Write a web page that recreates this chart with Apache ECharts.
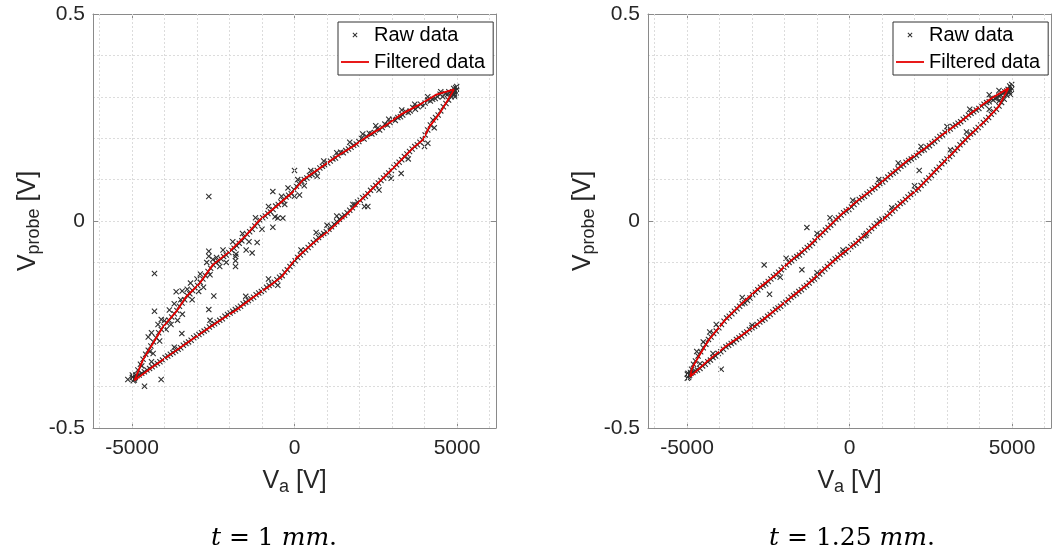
<!DOCTYPE html>
<html>
<head>
<meta charset="utf-8">
<script src="https://cdn.jsdelivr.net/npm/echarts@6/dist/echarts.min.js"></script>
<style>html,body{margin:0;padding:0;background:#fff}#c{width:1055px;height:559px}</style>
</head>
<body>
<div id="c"></div>
<script>
// ---------- tick / grid values ----------
var xTicks = [-5000, 0, 5000];
var xGrid = [-6000, -5000, -4000, -3000, -2000, -1000, 0, 1000, 2000, 3000, 4000, 5000, 6000];
var captions = ['t = 1 mm.', 't = 1.25 mm.'];

// ---------- left panel (t = 1 mm) ----------
var leftUpperLine = [[4910,0.318],[4359,0.305],[3846,0.281],[3333,0.260],[2821,0.232],[2308,0.208],[1795,0.180],[1282,0.155],[769,0.127],[256,0.099],[-51,0.070],[-564,0.035],[-1077,0.002],[-1487,-0.034],[-2000,-0.074],[-2513,-0.106],[-2923,-0.151],[-3333,-0.183],[-3641,-0.219],[-4051,-0.256],[-4359,-0.296],[-4667,-0.336],[-4923,-0.385]];
var leftLowerLine = [[-4923,-0.383],[-4360,-0.352],[-3846,-0.324],[-3333,-0.296],[-2821,-0.268],[-2308,-0.241],[-1795,-0.215],[-1282,-0.185],[-769,-0.157],[-400,-0.135],[50,-0.090],[564,-0.054],[1077,-0.022],[1590,0.015],[2103,0.055],[2615,0.095],[3128,0.135],[3641,0.176],[3949,0.196],[4154,0.228],[4462,0.260],[4700,0.290],[4910,0.318]];
var leftRawUpper = [[4990,0.325],[4980,0.318],[4960,0.322],[4950,0.310],[4940,0.315],[4920,0.305],[4900,0.320],[4870,0.312],[4820,0.310],[4750,0.312],[4700,0.305],[4640,0.308],[4560,0.300],[4480,0.306],[4400,0.300],[4330,0.296],[4250,0.294],[4180,0.290],[4100,0.292],[4020,0.285],[3960,0.278],[3880,0.282],[3800,0.276],[3720,0.270],[3640,0.274],[3560,0.266],[3500,0.262],[3420,0.264],[3330,0.256],[3260,0.252],[3180,0.250],[3100,0.243],[3020,0.246],[2940,0.238],[2860,0.232],[2780,0.234],[2700,0.226],[2620,0.220],[2540,0.223],[2460,0.214],[2380,0.210],[2300,0.212],[2220,0.204],[2140,0.198],[2060,0.200],[1980,0.192],[1900,0.186],[1820,0.183],[1740,0.178],[1660,0.174],[1580,0.170],[1500,0.165],[1420,0.166],[1340,0.158],[1260,0.152],[1180,0.150],[1100,0.145],[1020,0.140],[940,0.135],[860,0.132],[780,0.128],[700,0.122],[620,0.118],[540,0.112],[460,0.110],[380,0.104],[300,0.100],[220,0.096],[140,0.090],[60,0.084],[-20,0.076],[-100,0.066],[-180,0.062],[-260,0.058],[-340,0.050],[-420,0.046],[-500,0.040],[-580,0.036],[-660,0.028],[-740,0.022],[-820,0.018],[-900,0.012],[-980,0.008],[-1060,0.002],[-1140,-0.006],[-1220,-0.012],[-1300,-0.020],[-1380,-0.026],[-1460,-0.032],[-1540,-0.040],[-1620,-0.048],[-1700,-0.054],[-1780,-0.060],[-1860,-0.066],[-1940,-0.070],[-2020,-0.076],[-2100,-0.082],[-2180,-0.086],[-2260,-0.092],[-2340,-0.098],[-2420,-0.100],[-2500,-0.106],[-2580,-0.114],[-2660,-0.122],[-2740,-0.132],[-2820,-0.140],[-2900,-0.148],[-2980,-0.156],[-3060,-0.162],[-3140,-0.168],[-3220,-0.176],[-3300,-0.180],[-3380,-0.190],[-3460,-0.198],[-3540,-0.206],[-3620,-0.216],[-3700,-0.224],[-3780,-0.232],[-3860,-0.240],[-3940,-0.246],[-4020,-0.254],[-4100,-0.262],[-4180,-0.270],[-4260,-0.282],[-4340,-0.292],[-4420,-0.302],[-4500,-0.312],[-4580,-0.322],[-4660,-0.334],[-4740,-0.346],[-4820,-0.360],[-4880,-0.372],[-4930,-0.380],[-4960,-0.386],[-4990,-0.378]];
var leftRawUpperSpread = [[-4500,-0.280],[-4450,-0.315],[-4400,-0.270],[-4350,-0.320],[-4200,-0.250],[-4150,-0.290],[-4100,-0.238],[-4000,-0.240],[-3950,-0.262],[-3850,-0.215],[-3800,-0.250],[-3700,-0.200],[-3600,-0.240],[-3500,-0.190],[-3450,-0.225],[-3300,-0.165],[-3200,-0.150],[-3150,-0.190],[-3000,-0.140],[-2950,-0.170],[-2900,-0.128],[-2800,-0.160],[-2700,-0.100],[-2600,-0.130],[-2400,-0.088],[-2300,-0.110],[-2200,-0.070],[-2100,-0.100],[-1900,-0.050],[-1800,-0.080],[-1600,-0.030],[-1400,-0.050],[-1200,0.008],[-1000,-0.020],[-800,0.035],[-600,0.010],[-400,0.060],[-300,0.040],[-200,0.080],[0,0.060],[100,0.100],[300,0.085],[500,0.122],[700,0.108],[900,0.145],[1300,0.165],[1700,0.190],[2100,0.210],[2500,0.230],[2900,0.246],[3300,0.268],[3700,0.282],[4100,0.300],[4500,0.312]];
var leftRawLower = [[-4990,-0.372],[-4960,-0.376],[-4930,-0.384],[-4900,-0.378],[-4850,-0.374],[-4780,-0.372],[-4700,-0.368],[-4620,-0.364],[-4540,-0.360],[-4460,-0.356],[-4380,-0.352],[-4300,-0.348],[-4220,-0.344],[-4140,-0.340],[-4060,-0.336],[-3980,-0.330],[-3900,-0.326],[-3820,-0.322],[-3740,-0.318],[-3660,-0.314],[-3580,-0.310],[-3500,-0.306],[-3420,-0.300],[-3340,-0.296],[-3260,-0.292],[-3180,-0.288],[-3100,-0.282],[-3020,-0.278],[-2940,-0.274],[-2860,-0.270],[-2780,-0.266],[-2700,-0.262],[-2620,-0.256],[-2540,-0.252],[-2460,-0.248],[-2380,-0.244],[-2300,-0.240],[-2220,-0.236],[-2140,-0.230],[-2060,-0.226],[-1980,-0.222],[-1900,-0.218],[-1820,-0.214],[-1740,-0.210],[-1660,-0.206],[-1580,-0.200],[-1500,-0.196],[-1420,-0.192],[-1340,-0.188],[-1260,-0.184],[-1180,-0.178],[-1100,-0.174],[-1020,-0.170],[-940,-0.166],[-860,-0.160],[-780,-0.156],[-700,-0.152],[-620,-0.148],[-540,-0.142],[-460,-0.136],[-380,-0.132],[-300,-0.124],[-220,-0.118],[-140,-0.110],[-60,-0.104],[20,-0.096],[100,-0.088],[180,-0.082],[260,-0.076],[340,-0.070],[420,-0.064],[500,-0.058],[580,-0.052],[660,-0.046],[740,-0.040],[820,-0.034],[900,-0.030],[980,-0.026],[1060,-0.020],[1140,-0.014],[1220,-0.008],[1300,-0.002],[1380,0.004],[1460,0.010],[1540,0.014],[1620,0.020],[1700,0.026],[1780,0.032],[1860,0.040],[1940,0.046],[2020,0.050],[2100,0.056],[2180,0.060],[2260,0.066],[2340,0.074],[2420,0.080],[2500,0.086],[2580,0.092],[2660,0.098],[2740,0.104],[2820,0.110],[2900,0.116],[2980,0.122],[3060,0.130],[3140,0.136],[3220,0.142],[3300,0.148],[3380,0.156],[3460,0.162],[3540,0.168],[3620,0.174],[3700,0.180],[3780,0.184],[3860,0.190],[3940,0.196],[4020,0.208],[4100,0.220],[4180,0.232],[4260,0.244],[4340,0.250],[4420,0.256],[4500,0.266],[4580,0.276],[4660,0.284],[4740,0.292],[4820,0.300],[4880,0.308],[4940,0.300],[4970,0.310]];
var leftRawLowerSpread = [[-4700,-0.350],[-4400,-0.340],[-3700,-0.305],[-2600,-0.240],[-1500,-0.182],[-800,-0.140],[-513,-0.155],[200,-0.070],[667,-0.028],[1000,-0.010],[1300,0.012],[1800,0.040],[2154,0.035],[2256,0.035],[2600,0.075],[2974,0.103],[3282,0.115],[3500,0.150],[4103,0.188],[4000,0.180],[4300,0.225]];
var leftRawOutliers = [[0,0.122],[-2637,0.059],[-4308,-0.127],[-4308,-0.218],[-4103,-0.383],[-4615,-0.399],[-5128,-0.383],[-2483,-0.181],[-2637,-0.214],[-3467,-0.272],[-3641,-0.171],[-3456,-0.169],[-667,0.071],[-667,-0.015],[-1149,-0.052],[-1487,-0.070],[-1303,-0.077],[-1815,-0.110],[-2637,-0.073],[-2637,-0.085],[-2513,-0.093],[-1815,-0.086],[-1815,-0.096],[-513,0.007],[-359,0.007],[154,0.063]];

// ---------- right panel (t = 1.25 mm) ----------
var rightUpperLine = [[4892,0.321],[4382,0.297],[3868,0.268],[3354,0.236],[2843,0.208],[2329,0.176],[1815,0.148],[1305,0.115],[791,0.081],[277,0.051],[-234,0.017],[-748,-0.022],[-1262,-0.062],[-1772,-0.094],[-2286,-0.131],[-2800,-0.163],[-3311,-0.199],[-3825,-0.239],[-4338,-0.288],[-4645,-0.328],[-4850,-0.356],[-4901,-0.376]];
var rightLowerLine = [[-4901,-0.372],[-4338,-0.336],[-3825,-0.304],[-3311,-0.276],[-2800,-0.247],[-2286,-0.215],[-1772,-0.183],[-1262,-0.151],[-748,-0.114],[-300,-0.084],[180,-0.054],[690,-0.018],[1098,0.008],[1612,0.045],[2123,0.079],[2637,0.121],[3151,0.162],[3662,0.204],[4175,0.242],[4585,0.276],[4892,0.321]];
var rightRawUpper = [[4990,0.330],[4970,0.322],[4950,0.316],[4930,0.326],[4910,0.312],[4880,0.318],[4840,0.314],[4780,0.312],[4720,0.308],[4660,0.304],[4600,0.302],[4540,0.298],[4480,0.296],[4420,0.292],[4360,0.296],[4300,0.288],[4220,0.286],[4140,0.282],[4060,0.278],[3980,0.272],[3900,0.268],[3820,0.264],[3740,0.260],[3660,0.256],[3580,0.250],[3500,0.246],[3420,0.240],[3340,0.236],[3260,0.232],[3180,0.228],[3100,0.222],[3020,0.218],[2940,0.214],[2860,0.208],[2780,0.204],[2700,0.198],[2620,0.192],[2540,0.188],[2460,0.182],[2380,0.178],[2300,0.172],[2220,0.170],[2140,0.164],[2060,0.158],[1980,0.154],[1900,0.150],[1820,0.146],[1740,0.142],[1660,0.136],[1580,0.132],[1500,0.126],[1420,0.120],[1340,0.116],[1260,0.112],[1180,0.106],[1100,0.100],[1020,0.094],[940,0.090],[860,0.086],[780,0.080],[700,0.076],[620,0.070],[540,0.066],[460,0.060],[380,0.056],[300,0.052],[220,0.046],[140,0.040],[60,0.034],[-20,0.028],[-100,0.024],[-180,0.020],[-260,0.014],[-340,0.008],[-420,0.004],[-500,-0.004],[-580,-0.010],[-660,-0.016],[-740,-0.022],[-820,-0.028],[-900,-0.034],[-980,-0.040],[-1060,-0.048],[-1140,-0.054],[-1220,-0.060],[-1300,-0.064],[-1380,-0.070],[-1460,-0.076],[-1540,-0.082],[-1620,-0.086],[-1700,-0.090],[-1780,-0.096],[-1860,-0.100],[-1940,-0.106],[-2020,-0.112],[-2100,-0.118],[-2180,-0.124],[-2260,-0.130],[-2340,-0.134],[-2420,-0.140],[-2500,-0.146],[-2580,-0.152],[-2660,-0.156],[-2740,-0.160],[-2820,-0.166],[-2900,-0.172],[-2980,-0.178],[-3060,-0.186],[-3140,-0.192],[-3220,-0.198],[-3300,-0.200],[-3380,-0.206],[-3460,-0.212],[-3540,-0.218],[-3620,-0.224],[-3700,-0.230],[-3780,-0.234],[-3860,-0.242],[-3940,-0.250],[-4020,-0.258],[-4100,-0.266],[-4180,-0.272],[-4260,-0.280],[-4340,-0.286],[-4420,-0.298],[-4500,-0.306],[-4580,-0.316],[-4660,-0.326],[-4740,-0.338],[-4800,-0.346],[-4860,-0.358],[-4900,-0.366],[-4940,-0.374],[-4970,-0.368],[-4990,-0.380]];
var rightRawLower = [[-4990,-0.370],[-4950,-0.378],[-4920,-0.372],[-4880,-0.368],[-4820,-0.366],[-4750,-0.362],[-4680,-0.360],[-4600,-0.356],[-4520,-0.350],[-4440,-0.346],[-4360,-0.340],[-4280,-0.336],[-4200,-0.330],[-4120,-0.326],[-4040,-0.320],[-3960,-0.316],[-3880,-0.310],[-3800,-0.304],[-3720,-0.300],[-3640,-0.296],[-3560,-0.292],[-3480,-0.286],[-3400,-0.282],[-3320,-0.278],[-3240,-0.272],[-3160,-0.268],[-3080,-0.262],[-3000,-0.258],[-2920,-0.254],[-2840,-0.250],[-2760,-0.244],[-2680,-0.240],[-2600,-0.236],[-2520,-0.230],[-2440,-0.226],[-2360,-0.220],[-2280,-0.214],[-2200,-0.210],[-2120,-0.206],[-2040,-0.200],[-1960,-0.196],[-1880,-0.190],[-1800,-0.184],[-1720,-0.180],[-1640,-0.176],[-1560,-0.170],[-1480,-0.166],[-1400,-0.160],[-1320,-0.156],[-1240,-0.150],[-1160,-0.144],[-1080,-0.140],[-1000,-0.134],[-920,-0.128],[-840,-0.122],[-760,-0.116],[-680,-0.110],[-600,-0.104],[-520,-0.098],[-440,-0.092],[-360,-0.088],[-280,-0.082],[-200,-0.078],[-120,-0.074],[-40,-0.068],[40,-0.062],[120,-0.058],[200,-0.054],[280,-0.048],[360,-0.042],[440,-0.036],[520,-0.030],[600,-0.024],[680,-0.018],[760,-0.012],[840,-0.006],[920,0.000],[1000,0.004],[1080,0.008],[1160,0.012],[1240,0.018],[1320,0.024],[1400,0.030],[1480,0.036],[1560,0.042],[1640,0.046],[1720,0.052],[1800,0.058],[1880,0.064],[1960,0.068],[2040,0.074],[2120,0.078],[2200,0.086],[2280,0.092],[2360,0.098],[2440,0.104],[2520,0.110],[2600,0.118],[2680,0.124],[2760,0.130],[2840,0.138],[2920,0.144],[3000,0.150],[3080,0.156],[3160,0.162],[3240,0.170],[3320,0.176],[3400,0.184],[3480,0.190],[3560,0.196],[3640,0.202],[3720,0.210],[3800,0.214],[3880,0.220],[3960,0.226],[4040,0.232],[4120,0.238],[4200,0.244],[4280,0.250],[4360,0.258],[4440,0.264],[4520,0.270],[4600,0.278],[4680,0.286],[4760,0.294],[4840,0.304],[4900,0.312],[4950,0.306],[4980,0.318]];
var rightRawSpread = [[-4700,-0.315],[-4500,-0.292],[-4300,-0.268],[-4100,-0.250],[-3300,-0.185],[-1950,-0.090],[-1000,-0.030],[-600,0.008],[100,0.050],[900,0.100],[1500,0.140],[2200,0.180],[3000,0.228],[3700,0.270],[4300,0.305],[4600,0.315],[-4600,-0.345],[-4200,-0.320],[-3000,-0.252],[-1000,-0.125],[-200,-0.070],[500,-0.035],[1300,0.032],[2000,0.085],[3100,0.172],[3600,0.215],[4300,0.270],[4600,0.290]];
var rightRawOutliers = [[-2625,-0.106],[-1465,-0.118],[-2132,-0.136],[-2461,-0.177],[-1311,-0.016],[-3948,-0.358],[2145,0.122]];

// ---------- styling ----------
var FONT = 'Liberation Sans';
var axisColor = '#8a8a8a';
var textColor = '#262626';
var gridStyle = {color: '#dcdcdc', type: [2, 2], width: 1};
var xMarker = 'path://M0,1.3 L1.3,0 L5,3.7 L8.7,0 L10,1.3 L6.3,5 L10,8.7 L8.7,10 L5,6.3 L1.3,10 L0,8.7 L3.7,5 Z';
var xLegendIcon = 'path://M0,0 M28,14 M11.5,5.2 L12.2,4.5 L14,6.3 L15.8,4.5 L16.5,5.2 L14.7,7 L16.5,8.8 L15.8,9.5 L14,7.7 L12.2,9.5 L11.5,8.8 L13.3,7 Z';
var lineLegendIcon = 'path://M0,0 M28,14 M0,6.1 L28,6.1 L28,7.9 L0,7.9 Z';

var grids = [
  {left: 93, top: 14, width: 403, height: 414},
  {left: 648, top: 14, width: 403, height: 414}
];
var legendPos = [{left: 338, top: 22}, {left: 893, top: 22}];
var captionX = [274, 852];

var panels = [
  {line: leftUpperLine.concat(leftLowerLine), raw: leftRawUpper.concat(leftRawUpperSpread, leftRawLower, leftRawLowerSpread, leftRawOutliers)},
  {line: rightUpperLine.concat(rightLowerLine), raw: rightRawUpper.concat(rightRawLower, rightRawSpread, rightRawOutliers)}
];

var nameRich = {
  m: {fontSize: 25, fontFamily: FONT, color: textColor, lineHeight: 30},
  s: {fontSize: 18, fontFamily: FONT, color: textColor, lineHeight: 16, verticalAlign: 'bottom'}
};

var xAxes = [], yAxes = [], series = [], legends = [], graphics = [];
grids.forEach(function (g, i) {
  xAxes.push({
    gridIndex: i, type: 'value', min: -6200, max: 6200, position: 'bottom',
    axisLine: {onZero: false, lineStyle: {color: axisColor, width: 1}},
    axisTick: {inside: true, length: 5, customValues: xTicks, lineStyle: {color: axisColor}},
    axisLabel: {customValues: xTicks, fontSize: 21, fontFamily: FONT, color: textColor, margin: 10,
      formatter: function (v) { return String(v); }},
    splitLine: {show: false},
    name: '{m|V}{s|a}{m| [V]}', nameLocation: 'middle', nameGap: 38,
    nameTextStyle: {rich: nameRich}
  });
  xAxes.push({
    gridIndex: i, type: 'value', min: -6200, max: 6200, position: 'top',
    axisLine: {onZero: false, lineStyle: {color: axisColor, width: 1}},
    axisTick: {inside: true, length: 5, customValues: xTicks, lineStyle: {color: axisColor}},
    axisLabel: {show: false}, splitLine: {show: false}
  });
  yAxes.push({
    gridIndex: i, type: 'value', min: -0.5, max: 0.5, interval: 0.5, position: 'left',
    axisLine: {onZero: false, lineStyle: {color: axisColor, width: 1}},
    axisTick: {inside: true, length: 5, lineStyle: {color: axisColor}},
    axisLabel: {fontSize: 21, fontFamily: FONT, color: textColor, margin: 8},
    splitLine: {show: true, lineStyle: gridStyle},
    minorTick: {show: false, splitNumber: 5},
    minorSplitLine: {show: true, lineStyle: gridStyle},
    name: '{m|V}{s|probe}{m| [V]}', nameLocation: 'middle', nameRotate: 90, nameGap: 50,
    nameTextStyle: {rich: nameRich}
  });
  yAxes.push({
    gridIndex: i, type: 'value', min: -0.5, max: 0.5, interval: 0.5, position: 'right',
    axisLine: {onZero: false, lineStyle: {color: axisColor, width: 1}},
    axisTick: {inside: true, length: 5, lineStyle: {color: axisColor}},
    axisLabel: {show: false}, splitLine: {show: false}
  });
  series.push({
    type: 'scatter', name: 'grid' + i, xAxisIndex: 2 * i, yAxisIndex: 2 * i, data: [], silent: true, z: 1,
    markLine: {
      silent: true, symbol: ['none', 'none'], label: {show: false}, animation: false,
      lineStyle: gridStyle, emphasis: {disabled: true},
      data: xGrid.map(function (v) { return {xAxis: v}; })
    }
  });
  series.push({
    type: 'scatter', name: 'Raw data', xAxisIndex: 2 * i, yAxisIndex: 2 * i,
    data: panels[i].raw, symbol: xMarker, symbolSize: 6, z: 3,
    itemStyle: {color: '#303030', opacity: 1}
  });
  series.push({
    type: 'line', name: 'Filtered data', xAxisIndex: 2 * i, yAxisIndex: 2 * i,
    data: panels[i].line, symbol: 'none', showSymbol: false, z: 4,
    lineStyle: {color: '#e60000', width: 1.8}, itemStyle: {color: '#e60000'}
  });
  legends.push({
    left: legendPos[i].left, top: legendPos[i].top, orient: 'vertical', z: 10,
    data: [{name: 'Raw data', icon: xLegendIcon}, {name: 'Filtered data', icon: lineLegendIcon}],
    itemWidth: 28, itemHeight: 14, itemGap: 5,
    padding: [2, 8, 2, 3],
    borderColor: '#333', borderWidth: 1, borderRadius: 0, backgroundColor: '#fff',
    textStyle: {fontSize: 20, fontFamily: FONT, color: '#000', lineHeight: 22},
    selectedMode: false
  });
  var parts = captions[i].split(' ');
  graphics.push({
    type: 'text', x: captionX[i], y: 538,
    style: {
      text: '{i|t} {r|=} {r|' + parts[2] + '} {i|mm}{r|.}',
      align: 'center', verticalAlign: 'middle',
      rich: {
        i: {fontFamily: 'DejaVu Serif', fontStyle: 'italic', fontSize: 25, fill: '#000'},
        r: {fontFamily: 'DejaVu Serif', fontSize: 25, fill: '#000'}
      },
      fontFamily: 'DejaVu Serif', fontSize: 25, fill: '#000'
    }
  });
});

var chart = echarts.init(document.getElementById('c'), null, {renderer: 'canvas'});
chart.setOption({
  animation: false,
  backgroundColor: '#fff',
  grid: grids,
  xAxis: xAxes,
  yAxis: yAxes,
  legend: legends,
  series: series,
  graphic: graphics
});
</script>
</body>
</html>
